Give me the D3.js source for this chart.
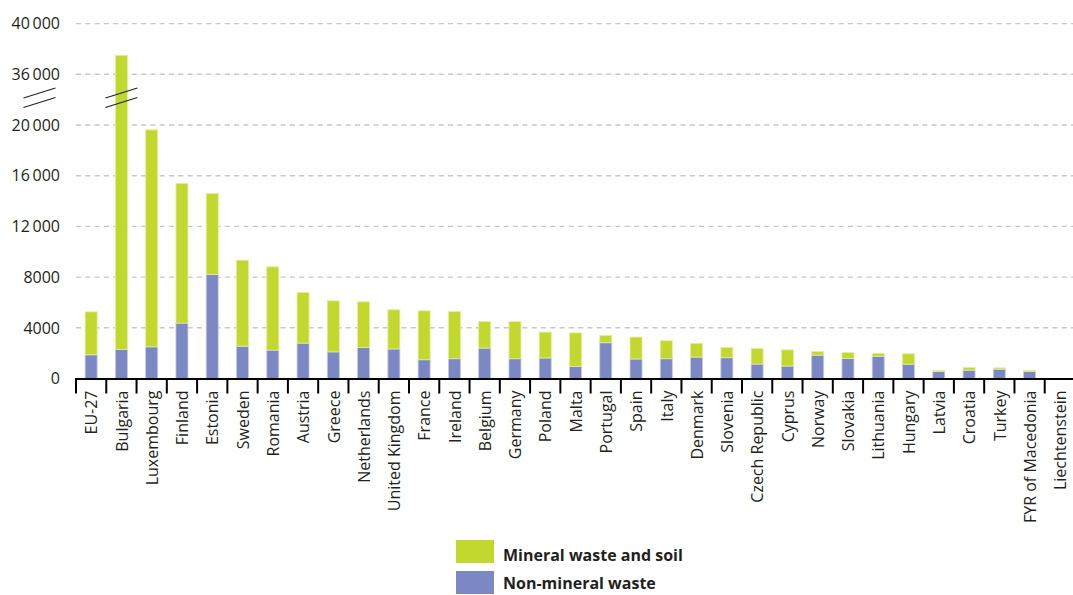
<!DOCTYPE html>
<html>
<head>
<meta charset="utf-8">
<script src="https://cdn.jsdelivr.net/npm/d3@7"></script>
<style>
  html, body { margin: 0; padding: 0; background: #fff; }
  svg { display: block; font-family: "Open Sans", "DejaVu Sans", sans-serif; }
</style>
</head>
<body>
<svg id="chart" width="1073" height="595"></svg>
<script>
// Waste generation per country, two stacked components
const countries = ["EU-27", "Bulgaria", "Luxembourg", "Finland", "Estonia", "Sweden", "Romania",
  "Austria", "Greece", "Netherlands", "United Kingdom", "France", "Ireland", "Belgium", "Germany",
  "Poland", "Malta", "Portugal", "Spain", "Italy", "Denmark", "Slovenia", "Czech Republic", "Cyprus",
  "Norway", "Slovakia", "Lithuania", "Hungary", "Latvia", "Croatia", "Turkey", "FYR of Macedonia",
  "Liechtenstein"];

const nonMineral = [1870, 2290, 2500, 4370, 8200, 2550, 2240, 2790, 2100, 2450, 2330, 1480, 1560,
  2400, 1560, 1620, 960, 2820, 1540, 1560, 1690, 1640, 1140, 980, 1840, 1580, 1760, 1130, 550,
  660, 740, 560, 0];

const mineral = [3390, 35210, 17120, 11020, 6400, 6790, 6570, 3990, 4030, 3600, 3090, 3860, 3730,
  2100, 2940, 2040, 2640, 580, 1730, 1420, 1080, 800, 1220, 1280, 290, 470, 230, 820, 80,
  220, 100, 70, 0];

const tickValues = [0, 4000, 8000, 12000, 16000, 20000, 36000, 40000];
const tickLabels = ["0", "4000", "8000", "12\u2009000", "16\u2009000", "20\u2009000", "36\u2009000", "40\u2009000"];

const seriesNames = ["Mineral waste and soil", "Non-mineral waste"];
const seriesColors = ["#c3d82e", "#7b88c4"];
const seriesEdges = ["#e4eea0", "#c4cae6"];

const svg = d3.select("#chart");
const plotLeft = 76, plotRight = 1075;
const yBase = 378.5, step = 50.7;

// y axis with a break between 20 000 and 36 000
const y = d3.scaleLinear()
  .domain([0, 20000, 36000, 40000])
  .range([yBase, yBase - 5 * step, yBase - 6 * step, yBase - 7 * step]);

const x = d3.scaleBand().domain(countries).range([plotLeft, plotRight]).paddingInner(0).paddingOuter(0);
const barW = 12;

// gridlines
svg.append("g").selectAll("line")
  .data(tickValues.filter(v => v > 0))
  .join("line")
  .attr("x1", plotLeft).attr("x2", 1073)
  .attr("y1", d => y(d)).attr("y2", d => y(d))
  .attr("stroke", "#c8c8c8").attr("stroke-width", 1.4)
  .attr("stroke-dasharray", "5,4.3");

// y labels
svg.append("g").selectAll("text")
  .data(tickValues)
  .join("text")
  .attr("x", 60).attr("y", d => y(d))
  .attr("dy", "0.36em")
  .attr("text-anchor", "end")
  .attr("font-size", 16)
  .attr("fill", "#231f20")
  .text((d, i) => tickLabels[i]);

// stacked bars
const rows = countries.map((c, i) => ({ country: c, nonMineral: nonMineral[i], mineral: mineral[i] }));
const stack = d3.stack().keys(["nonMineral", "mineral"])(rows);
const keyIndex = { nonMineral: 1, mineral: 0 };

svg.append("g").selectAll("g")
  .data(stack)
  .join("g")
  .attr("fill", d => seriesColors[keyIndex[d.key]])
  .attr("stroke", d => seriesEdges[keyIndex[d.key]])
  .attr("stroke-width", 0.8)
  .selectAll("rect")
  .data(d => d.filter(p => p[1] > p[0]))
  .join("rect")
  .attr("x", d => x(d.data.country) + (x.bandwidth() - barW) / 2)
  .attr("width", barW)
  .attr("y", d => y(d[1]))
  .attr("height", d => y(d[0]) - y(d[1]));

// break marks on the axis and on the Bulgaria bar
const breakY = [y(20000) - 27, y(20000) - 17.5];
const bx = x("Bulgaria") + x.bandwidth() / 2;
const breaks = [];
[[23.5, 55.5], [bx - 16, bx + 16]].forEach(([x0, x1]) => {
  breakY.forEach(yy => breaks.push({ x0, x1, y0: yy, y1: yy - 10 }));
});
svg.append("g").selectAll("line")
  .data(breaks)
  .join("line")
  .attr("x1", d => d.x0).attr("x2", d => d.x1)
  .attr("y1", d => d.y0).attr("y2", d => d.y1)
  .attr("stroke", "#231f20").attr("stroke-width", 1.1);

// x axis
const xAxis = svg.append("g");
xAxis.append("line")
  .attr("x1", plotLeft - 1).attr("x2", 1073)
  .attr("y1", yBase + 0.5).attr("y2", yBase + 0.5)
  .attr("stroke", "#000").attr("stroke-width", 2.2);
const boundaries = countries.map(c => x(c)).concat([x.range()[1]]);
xAxis.selectAll("line.tick")
  .data(boundaries)
  .join("line")
  .attr("class", "tick")
  .attr("x1", d => d).attr("x2", d => d)
  .attr("y1", yBase).attr("y2", yBase + 15)
  .attr("stroke", "#000").attr("stroke-width", 2);

xAxis.selectAll("text")
  .data(countries)
  .join("text")
  .attr("transform", d => `translate(${x(d) + x.bandwidth() / 2 + 0.5},${yBase + 12}) rotate(-90)`)
  .attr("text-anchor", "end")
  .attr("dy", "0.36em")
  .attr("font-size", 16)
  .attr("fill", "#231f20")
  .text(d => d);

// legend
const legend = svg.append("g").attr("transform", "translate(456,540)");
seriesNames.forEach((name, i) => {
  legend.append("rect")
    .attr("x", 0).attr("y", i * 31)
    .attr("width", 38).attr("height", 23)
    .attr("fill", seriesColors[i]);
  legend.append("text")
    .attr("x", 47).attr("y", i * 31 + 21 - i * 3)
    .attr("font-size", 16).attr("font-weight", "bold")
    .attr("fill", "#231f20")
    .text(name);
});
</script>
</body>
</html>
